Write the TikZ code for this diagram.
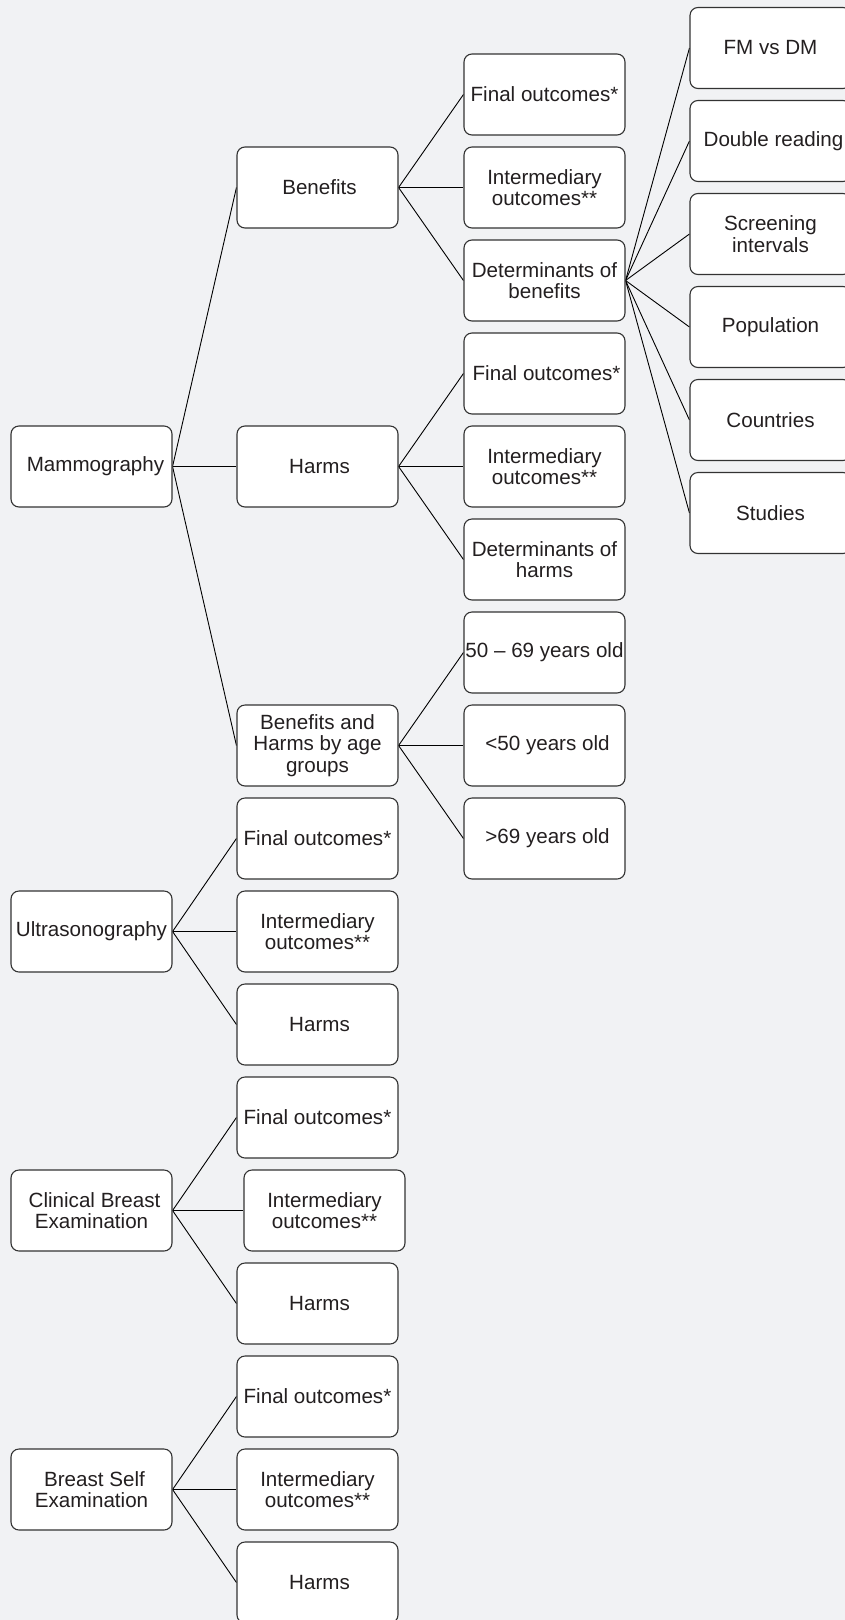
\documentclass[tikz,border=0pt]{standalone}
\usepackage{fontspec}
\setmainfont{Liberation Sans}
\usepackage{tikz}
\usetikzlibrary{calc}
\pgfdeclarelayer{background}
\pgfsetlayers{background,main}
\definecolor{bgGrey}{HTML}{F1F2F4}
\definecolor{boxLine}{HTML}{333333}
\definecolor{txtGrey}{HTML}{231F20}

\begin{document}
\begin{tikzpicture}[x=1pt, y=-1pt]

    % Page
    \useasboundingbox (0,0) rectangle (845,1620);

    % Boxes
    \tikzset{box/.style={draw=boxLine, line width=1.1pt, rounded corners=8pt, fill=white, text=txtGrey, minimum width=161pt, minimum height=81pt, inner sep=0pt, align=center, font=\fontsize{20.6}{21.6}\selectfont}}

    % Branches
    \tikzset{link/.style={draw=black, line width=0.9pt}}

    % Screening methods
    \node (m) [box] at (91.5, 466.5) {\hspace{8pt}Mammography};
    \node (u) [box] at (91.5, 931.5) {Ultrasonography};
    \node (c) [box] at (91.5, 1210.5) {\hspace{6pt}Clinical Breast\\Examination};
    \node (s) [box] at (91.5, 1489.5) {\hspace{6pt}Breast Self\\Examination};

    % Mammography
    	\node (b) [box] at (317.5, 187.5) {\hspace{4pt}Benefits};
    		\node (bfo) [box] at (544.5, 94.5) {Final outcomes*};
    		\node (bio) [box] at (544.5, 187.5) {Intermediary\\outcomes**};
    		\node (bd) [box] at (544.5, 280.5) {Determinants of\\benefits};
    			\node (fm) [box] at (770.5, 48) {FM vs DM};
    			\node (dr) [box] at (770.5, 141) {\hspace{6pt}Double reading};
    			\node (si) [box] at (770.5, 234) {Screening\\intervals};
    			\node (pop) [box] at (770.5, 327) {Population};
    			\node (cty) [box] at (770.5, 420) {Countries};
    			\node (stu) [box] at (770.5, 513) {Studies};
    	\node (h) [box] at (317.5, 466.5) {\hspace{4pt}Harms};
    		\node (hfo) [box] at (544.5, 373.5) {\hspace{4pt}Final outcomes*};
    		\node (hio) [box] at (544.5, 466.5) {Intermediary\\outcomes**};
    		\node (hd) [box] at (544.5, 559.5) {Determinants of\\harms};
    	\node (ag) [box] at (317.5, 745.5) {Benefits and\\Harms by age\\groups};
    		\node (y1) [box] at (544.5, 652.5) {50 -- 69 years old};
    		\node (y2) [box] at (544.5, 745.5) {\hspace{6pt}<50 years old};
    		\node (y3) [box] at (544.5, 838.5) {\hspace{6pt}>69 years old};

    % Ultrasonography
    	\node (ufo) [box] at (317.5, 838.5) {Final outcomes*};
    	\node (uio) [box] at (317.5, 931.5) {Intermediary\\outcomes**};
    	\node (uh) [box] at (317.5, 1024.5) {\hspace{4pt}Harms};

    % Clinical breast examination
    	\node (cfo) [box] at (317.5, 1117.5) {Final outcomes*};
    	\node (cio) [box] at (324.5, 1210.5) {Intermediary\\outcomes**};
    	\node (ch) [box] at (317.5, 1303.5) {\hspace{4pt}Harms};

    % Breast self examination
    	\node (sfo) [box] at (317.5, 1396.5) {Final outcomes*};
    	\node (sio) [box] at (317.5, 1489.5) {Intermediary\\outcomes**};
    	\node (sh) [box] at (317.5, 1582.5) {\hspace{4pt}Harms};

    % Background image
    \begin{pgfonlayer}{background}

    	\fill[bgGrey] (0,0) rectangle (845,1620);

    	% Mammography tree
    	\path[link] (m.east) -- (b.west);
    	\path[link] (m.east) -- (h.west);
    	\path[link] (m.east) -- (ag.west);
    		\path[link] (b.east) -- (bfo.west);
    		\path[link] (b.east) -- (bio.west);
    		\path[link] (b.east) -- (bd.west);
    			\path[link] (bd.east) -- (fm.west);
    			\path[link] (bd.east) -- (dr.west);
    			\path[link] (bd.east) -- (si.west);
    			\path[link] (bd.east) -- (pop.west);
    			\path[link] (bd.east) -- (cty.west);
    			\path[link] (bd.east) -- (stu.west);
    		\path[link] (h.east) -- (hfo.west);
    		\path[link] (h.east) -- (hio.west);
    		\path[link] (h.east) -- (hd.west);
    		\path[link] (ag.east) -- (y1.west);
    		\path[link] (ag.east) -- (y2.west);
    		\path[link] (ag.east) -- (y3.west);

    	% Other methods
    	\path[link] (u.east) -- (ufo.west);
    	\path[link] (u.east) -- (uio.west);
    	\path[link] (u.east) -- (uh.west);
    	\path[link] (c.east) -- (cfo.west);
    	\path[link] (c.east) -- (cio.west);
    	\path[link] (c.east) -- (ch.west);
    	\path[link] (s.east) -- (sfo.west);
    	\path[link] (s.east) -- (sio.west);
    	\path[link] (s.east) -- (sh.west);

    \end{pgfonlayer}

\end{tikzpicture}
\end{document}
